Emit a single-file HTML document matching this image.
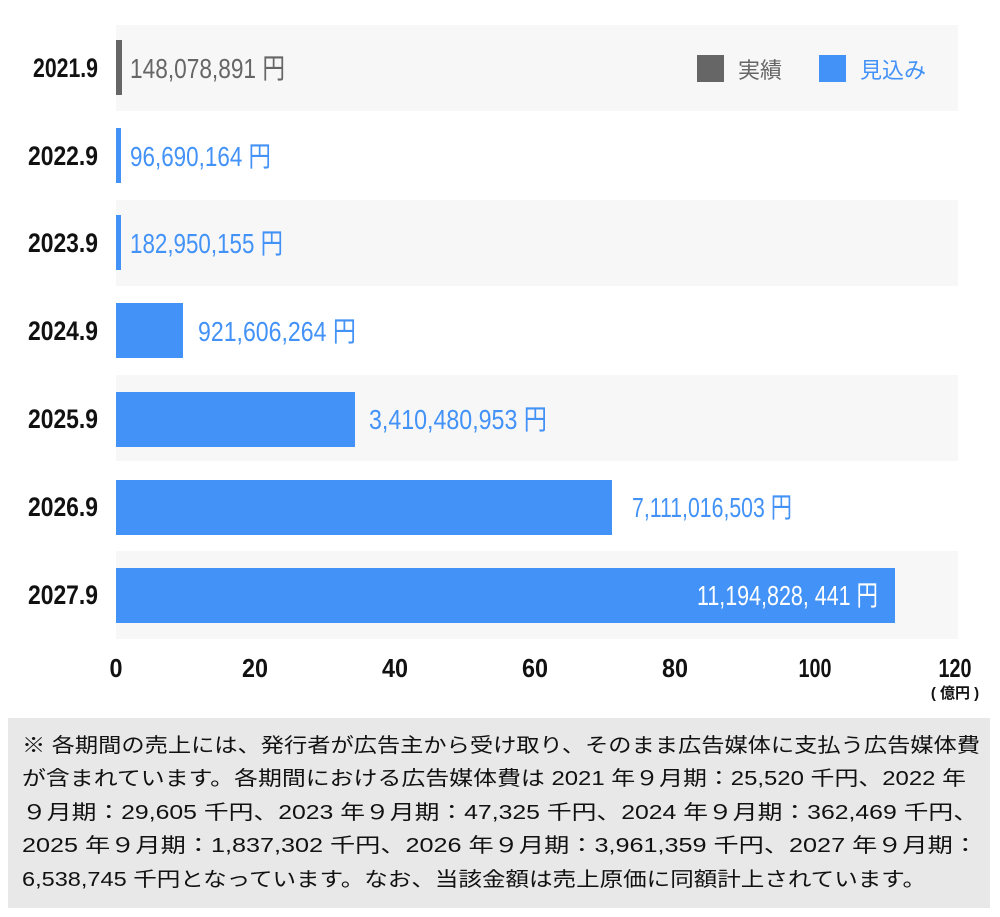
<!DOCTYPE html>
<html><head><meta charset="utf-8"><style>
body{margin:0;background:#fff;width:1000px;height:917px;overflow:hidden;font-family:"Liberation Sans","Noto Sans CJK JP",sans-serif}
</style></head><body>
<svg width="1000" height="917" style="position:absolute;left:0;top:0" font-family="'Liberation Sans Narrow','Liberation Sans','Noto Sans CJK JP',sans-serif">
<g fill="#f7f7f7">
<rect x="116" y="25" width="842" height="86"/>
<rect x="116" y="200" width="842" height="86"/>
<rect x="116" y="375" width="842" height="86"/>
<rect x="116" y="551" width="842" height="88"/>
</g>
<rect x="116" y="40" width="6" height="55" fill="#666"/>
<rect x="116" y="128" width="5" height="55" fill="#4392f7"/>
<rect x="116" y="215" width="5" height="55" fill="#4392f7"/>
<rect x="116" y="303" width="67" height="55" fill="#4392f7"/>
<rect x="116" y="392" width="239" height="55" fill="#4392f7"/>
<rect x="116" y="480" width="496" height="55" fill="#4392f7"/>
<rect x="116" y="568" width="779" height="55" fill="#4392f7"/>
<g font-size="27" font-weight="bold" fill="#111" text-anchor="end">
<text x="98" y="77" textLength="65" lengthAdjust="spacingAndGlyphs">2021.9</text>
<text x="98" y="165" textLength="70" lengthAdjust="spacingAndGlyphs">2022.9</text>
<text x="98" y="252" textLength="70" lengthAdjust="spacingAndGlyphs">2023.9</text>
<text x="98" y="340" textLength="70" lengthAdjust="spacingAndGlyphs">2024.9</text>
<text x="98" y="428" textLength="70" lengthAdjust="spacingAndGlyphs">2025.9</text>
<text x="98" y="516" textLength="70" lengthAdjust="spacingAndGlyphs">2026.9</text>
<text x="98" y="604" textLength="70" lengthAdjust="spacingAndGlyphs">2027.9</text>
</g>
<g font-size="28">
<text x="130" y="78" fill="#666" textLength="155" lengthAdjust="spacingAndGlyphs">148,078,891 円</text>
<text x="130" y="166" fill="#4392f7" textLength="141" lengthAdjust="spacingAndGlyphs">96,690,164 円</text>
<text x="130" y="253" fill="#4392f7" textLength="153" lengthAdjust="spacingAndGlyphs">182,950,155 円</text>
<text x="198" y="341" fill="#4392f7" textLength="158" lengthAdjust="spacingAndGlyphs">921,606,264 円</text>
<text x="369" y="429" fill="#4392f7" textLength="178" lengthAdjust="spacingAndGlyphs">3,410,480,953 円</text>
<text x="632" y="517" fill="#4392f7" textLength="160" lengthAdjust="spacingAndGlyphs">7,111,016,503 円</text>
<text x="697" y="605" fill="#fff" textLength="181" lengthAdjust="spacingAndGlyphs">11,194,828, 441 円</text>
</g>
<rect x="697" y="55" width="27" height="27" fill="#666"/>
<text x="738" y="78" font-size="22" fill="#666" font-family="'Liberation Sans','Noto Sans CJK JP',sans-serif">実績</text>
<rect x="819" y="55" width="27" height="27" fill="#4392f7"/>
<text x="860" y="78" font-size="22" fill="#4392f7" font-family="'Liberation Sans','Noto Sans CJK JP',sans-serif">見込み</text>
<g font-size="26" font-weight="bold" fill="#111" text-anchor="middle">
<text x="116" y="677" textLength="13" lengthAdjust="spacingAndGlyphs">0</text>
<text x="255" y="677" textLength="26" lengthAdjust="spacingAndGlyphs">20</text>
<text x="395" y="677" textLength="26" lengthAdjust="spacingAndGlyphs">40</text>
<text x="535" y="677" textLength="26" lengthAdjust="spacingAndGlyphs">60</text>
<text x="675" y="677" textLength="26" lengthAdjust="spacingAndGlyphs">80</text>
<text x="815" y="677" textLength="33" lengthAdjust="spacingAndGlyphs">100</text>
<text x="955" y="677" textLength="33" lengthAdjust="spacingAndGlyphs">120</text>
</g>
<text x="955" y="698" font-size="15" font-weight="bold" fill="#111" text-anchor="middle" font-family="'Liberation Sans','Noto Sans CJK JP',sans-serif">( 億円 )</text>
<rect x="8" y="718" width="982" height="190" fill="#e8e8e8"/>
<g font-size="20" fill="#111" font-family="'Liberation Sans','Noto Sans CJK JP',sans-serif">
<text x="22" y="752" textLength="958" lengthAdjust="spacingAndGlyphs">※ 各期間の売上には、発行者が広告主から受け取り、そのまま広告媒体に支払う広告媒体費</text>
<text x="22" y="785" textLength="944" lengthAdjust="spacingAndGlyphs">が含まれています。各期間における広告媒体費は 2021 年９月期：25,520 千円、2022 年</text>
<text x="22" y="819" textLength="956" lengthAdjust="spacingAndGlyphs">９月期：29,605 千円、2023 年９月期：47,325 千円、2024 年９月期：362,469 千円、</text>
<text x="22" y="852" textLength="956" lengthAdjust="spacingAndGlyphs">2025 年９月期：1,837,302 千円、2026 年９月期：3,961,359 千円、2027 年９月期：</text>
<text x="22" y="886" textLength="904" lengthAdjust="spacingAndGlyphs">6,538,745 千円となっています。なお、当該金額は売上原価に同額計上されています。</text>
</g>
</svg>
</body></html>
